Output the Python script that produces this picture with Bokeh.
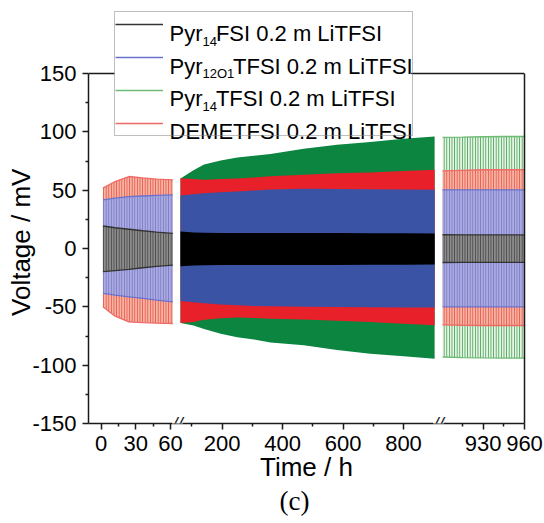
import numpy as np
from bokeh.plotting import figure
from bokeh.models import (Range1d, FixedTicker, Legend, LegendItem, Label, Span, Title,
                          LinearAxis, BoxAnnotation)
from bokeh.core.properties import value
from bokeh.embed import file_html
from bokeh.resources import INLINE

# ---------------- data ----------------
# broken time axis: three segments, source ranges (h) anchored on tick values
seg_src = [(0, 60), (200, 800), (930, 960)]
seg_major = [[0, 30, 60], [200, 400, 600, 800], [930, 960]]
seg_minor = [[15, 45], [100, 300, 500, 700], [915, 945]]
y_ticks = [-150, -100, -50, 0, 50, 100, 150]
y_minor = [-125, -75, -25, 25, 75, 125]

# segment 1: 0 - 62 h
t_seg1 = [1.5, 12, 24, 36, 48, 62]
fsi_up_1 = [19.3, 17.8, 16.5, 15.2, 14.0, 13.0]
fsi_lo_1 = [-19.9, -18.9, -17.9, -16.5, -15.3, -14.2]
o1_up_1 = [41.7, 43.2, 44.5, 45.0, 45.5, 46.0]
o1_lo_1 = [-38.5, -40.0, -41.4, -42.8, -44.2, -45.7]
tfsi_up_1 = [51.5, 54.0, 56.5, 57.0, 57.5, 58.0]
tfsi_lo_1 = [-48.0, -55.0, -58.5, -60.0, -61.5, -62.5]
deme_up_1 = [51.7, 57.4, 61.7, 60.5, 59.5, 58.9]
deme_lo_1 = [-50.0, -58.0, -62.9, -63.5, -64.0, -64.3]

# segment 2: 62 - 903 h
t_seg2 = [62, 105, 140, 195, 250, 305, 360, 470, 580, 690, 800, 903]
fsi_up_2 = [14.5, 13.8, 13.5, 13.3, 13.3, 13.3, 13.2, 13.2, 13.2, 13.1, 13.0, 12.8]
fsi_lo_2 = [-15.2, -14.6, -14.4, -14.2, -14.2, -14.2, -14.2, -14.2, -14.1, -14.0, -13.9, -13.8]
o1_up_2 = [45.4, 46.5, 47.3, 48.2, 48.9, 49.8, 50.5, 51.2, 51.0, 50.7, 50.5, 50.3]
o1_lo_2 = [-44.9, -46.0, -47.0, -48.0, -48.6, -49.2, -49.6, -50.0, -50.2, -50.4, -50.5, -50.6]
tfsi_up_2 = [60.0, 67.0, 72.0, 75.5, 78.0, 79.5, 81.0, 85.5, 89.0, 91.3, 94.0, 96.0]
tfsi_lo_2 = [-63.8, -66.0, -69.0, -73.0, -76.0, -78.0, -80.5, -83.0, -87.0, -90.3, -92.4, -94.4]
deme_up_2 = [60.3, 59.5, 58.9, 59.5, 60.0, 60.8, 62.0, 63.2, 64.5, 65.2, 66.5, 67.5]
deme_lo_2 = [-63.8, -62.9, -61.0, -59.8, -59.2, -59.5, -60.2, -60.9, -62.0, -62.9, -64.5, -65.8]

# segment 3: 900 - 960 h
t_seg3 = [900.5, 915, 930, 945, 960]
fsi_up_3 = [11.8, 11.7, 11.6, 11.6, 11.6]
fsi_lo_3 = [-12.0, -11.9, -11.9, -11.9, -11.9]
o1_up_3 = [50.3, 50.3, 50.3, 50.3, 50.3]
o1_lo_3 = [-50.0, -50.0, -50.0, -50.0, -50.0]
tfsi_up_3 = [95.3, 95.5, 95.8, 96.0, 96.0]
tfsi_lo_3 = [-93.0, -93.5, -93.8, -94.0, -94.0]
deme_up_3 = [66.5, 67.0, 67.5, 67.5, 67.5]
deme_lo_3 = [-65.5, -65.8, -66.0, -66.0, -66.0]

legend_labels = [("Pyr", "14", "FSI 0.2 m LiTFSI"), ("Pyr", "12O1", "TFSI 0.2 m LiTFSI"),
                 ("Pyr", "14", "TFSI 0.2 m LiTFSI"), ("DEMETFSI 0.2 m LiTFSI", "", "")]

# ---------------- layout / style ----------------
W, H = 544, 518
LEFT, RIGHT, TOP = 88, 20, 10
FRAME_BOTTOM = 423
BOTTOM = H - FRAME_BOTTOM
FRAME_W = W - LEFT - RIGHT            # 436 px, display x unit = 1 px
PX_PER_MV = 350 / 300.0               # -150..150 spans 350 px
Y_TOP = 150 + (73 - TOP) / PX_PER_MV  # frame extends above 150 to hold the legend
seg_dst = [(12.7, 82.0), (133.7, 315.0), (394.7, 436.0)]   # frame positions of tick anchors
breaks = [89, 350]
FONT = "Liberation Sans"
AX = "#1a1a1a"

def to_disp(t, k):
    (s0, s1), (d0, d1) = seg_src[k], seg_dst[k]
    return round(d0 + (t - s0) * (d1 - d0) / (s1 - s0), 3)

def img_x(x):   # picture px -> display units
    return x - LEFT

def img_y(y):   # picture px -> mV
    return 150 - (y - 73) / PX_PER_MV

p = figure(width=W, height=H, output_backend="svg", toolbar_location=None,
           x_range=Range1d(0, FRAME_W), y_range=Range1d(-150, Y_TOP),
           min_border_left=LEFT, min_border_right=RIGHT, min_border_top=TOP,
           min_border_bottom=BOTTOM, background_fill_color="white",
           border_fill_color="white")
p.outline_line_color = None
p.xgrid.grid_line_color = None
p.ygrid.grid_line_color = None

major = [to_disp(t, k) for k in range(3) for t in seg_major[k]]
minor = [to_disp(t, k) for k in range(3) for t in seg_minor[k]]
p.xaxis.ticker = FixedTicker(ticks=major, minor_ticks=minor)
p.xaxis.major_label_overrides = {to_disp(t, k): str(t) for k in range(3) for t in seg_major[k]}
p.yaxis.ticker = FixedTicker(ticks=y_ticks, minor_ticks=y_minor)
p.yaxis.major_label_overrides = {v: str(v) for v in y_ticks}
p.yaxis.bounds = (-150, 150)

for ax in (p.xaxis[0], p.yaxis[0]):
    ax.axis_line_color = AX
    ax.axis_line_width = 1.5
    ax.major_tick_line_color = AX
    ax.minor_tick_line_color = AX
    ax.major_tick_line_width = 1.5
    ax.minor_tick_line_width = 1.5
    ax.major_tick_in = 0
    ax.minor_tick_in = 0
    ax.major_tick_out = 6
    ax.minor_tick_out = 3
    ax.major_label_text_font = FONT
    ax.major_label_text_font_size = "22px"
    ax.major_label_text_color = "black"
    ax.axis_label_text_font = FONT
    ax.axis_label_text_font_style = "normal"
    ax.axis_label_text_color = "black"
    ax.axis_label_text_font_size = "26px"
p.xaxis.axis_label = "Time / h"
# trailing no-break spaces keep the label centred on the -150..150 part of the frame
p.yaxis.axis_label = "Voltage / mV" + "\u00a0" * 7
p.xaxis.major_label_standoff = 6
p.yaxis.major_label_standoff = 6
p.xaxis.axis_label_standoff = -2
p.yaxis.axis_label_standoff = -7

# right border of the frame
rax = LinearAxis(bounds=(-150, 150), ticker=FixedTicker(ticks=[]), axis_line_color=AX,
                 axis_line_width=1.5, major_tick_out=0, minor_tick_out=0,
                 major_label_text_font_size="0px")
p.add_layout(rax, "right")
# top border of the frame (under everything, so the legend box hides it)
p.add_layout(Span(location=150, dimension="width", line_color=AX, line_width=1.5,
                  level="underlay"))

# series styling: dense (solid) colour, sparse band fill, hatch (cycles), edge/legend line
styles = {
    "tfsi": dict(solid="#0b8540", fill="#e6f3e6", hatch="#4caa5a", edge="#6fba74"),
    "deme": dict(solid="#e8202a", fill="#f5b3a4", hatch="#ea5a4c", edge="#ee6a66"),
    "o1":   dict(solid="#3a53a4", fill="#ababe2", hatch="#7c7cc8", edge="#6a72cc"),
    "fsi":  dict(solid="#000000", fill="#8c8c8c", hatch="#4a4a4a", edge="#333333"),
}
data = {
    "tfsi": [(tfsi_up_1, tfsi_lo_1), (tfsi_up_2, tfsi_lo_2), (tfsi_up_3, tfsi_lo_3)],
    "deme": [(deme_up_1, deme_lo_1), (deme_up_2, deme_lo_2), (deme_up_3, deme_lo_3)],
    "o1":   [(o1_up_1, o1_lo_1), (o1_up_2, o1_lo_2), (o1_up_3, o1_lo_3)],
    "fsi":  [(fsi_up_1, fsi_lo_1), (fsi_up_2, fsi_lo_2), (fsi_up_3, fsi_lo_3)],
}
times = [t_seg1, t_seg2, t_seg3]
draw_order = ["tfsi", "deme", "o1", "fsi"]

legend_r = {}
for k in range(3):
    sub = p.subplot(x_source=Range1d(*seg_src[k]), x_target=Range1d(*seg_dst[k]),
                    y_source=Range1d(-150, 150), y_target=Range1d(-150, 150))
    for key in draw_order:
        st = styles[key]
        up, lo = data[key][k]
        if k == 1:
            sub.varea(x=times[k], y1=lo, y2=up, fill_color=st["solid"], fill_alpha=1)
        else:
            sub.varea(x=times[k], y1=lo, y2=up, fill_color=st["fill"], fill_alpha=1,
                      hatch_pattern="|", hatch_color=st["hatch"], hatch_scale=2.6,
                      hatch_weight=1.1)
            r = sub.line(x=times[k], y=up, line_color=st["edge"], line_width=1.3)
            sub.line(x=times[k], y=lo, line_color=st["edge"], line_width=1.3)
            if k == 0:
                legend_r[key] = r

# legend: white box, sample lines, then texts (with subscripts) on top
p.add_layout(BoxAnnotation(left=img_x(114), right=img_x(410.7), top=img_y(12.7),
                           bottom=img_y(135.7), fill_color="white", fill_alpha=1,
                           line_color=None))
legend = Legend(items=[LegendItem(label=value(" "), renderers=[legend_r[kk]])
                       for kk in ["fsi", "o1", "tfsi", "deme"]],
                location=(26, 287), orientation="vertical",
                glyph_width=48, glyph_height=24, label_height=24, label_width=243,
                label_standoff=6, spacing=9, padding=0, margin=0,
                label_text_font_size="10px",
                border_line_color="#808080", border_line_width=1,
                background_fill_alpha=0)
p.add_layout(legend, "center")

def add_text(text, x, y, size, font=FONT, align="left", baseline="alphabetic", **kw):
    p.add_layout(Label(x=img_x(x), y=img_y(y), text=text, text_font=font,
                       text_font_size=size, text_align=align, text_baseline=baseline,
                       text_color="black", **kw))

row_base = [33, 65.7, 98, 131]
for (main, sub_txt, rest), yb in zip(legend_labels, row_base):
    add_text(main, 169, yb, "22px")
    if sub_txt:
        add_text(sub_txt, 202, yb + 7.5, "13px")
        add_text(rest, 202 + (13.4 if sub_txt == "14" else 30.5), yb, "22px")

# axis break marks
for b in breaks:
    p.add_layout(Label(x=b, y=-150, text="//", text_font=FONT, text_font_size="19px",
                       text_font_style="italic", text_align="center",
                       text_baseline="middle", text_color=AX,
                       background_fill_color="white", background_fill_alpha=1))

# panel caption
p.add_layout(Title(text="(c)", align="left", offset=191, standoff=-1,
                   text_font="Liberation Serif", text_font_size="27px",
                   text_font_style="normal", text_color="black"), "below")

open("out.html", "w").write(file_html(p, INLINE))
